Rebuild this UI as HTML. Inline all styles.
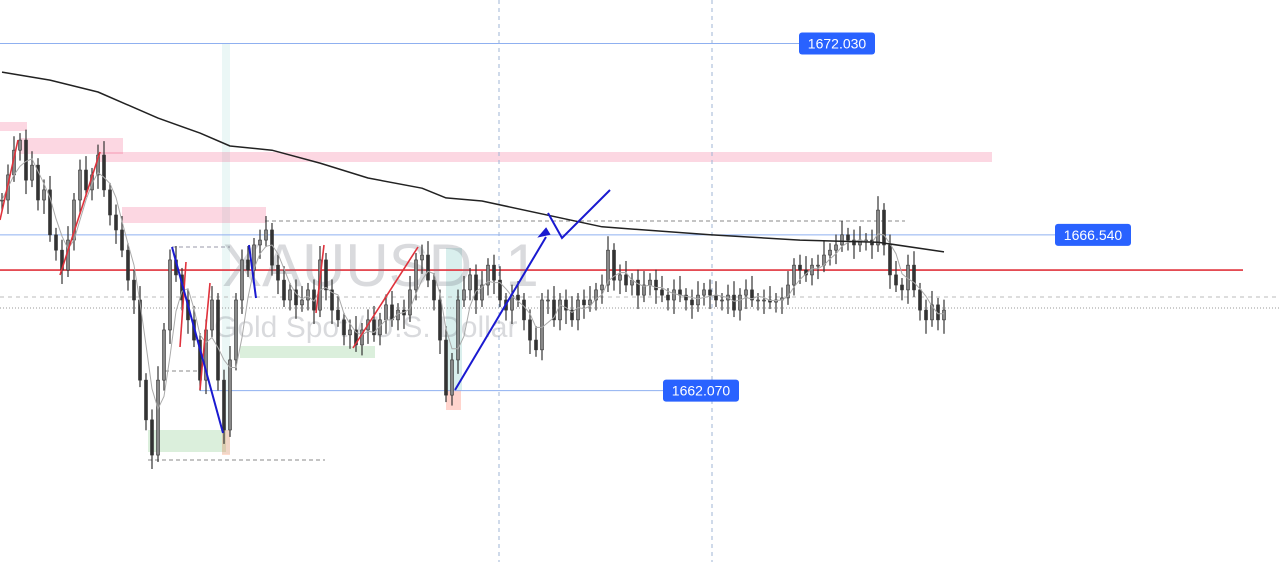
<!DOCTYPE html>
<html><head><meta charset="utf-8"><style>
html,body{margin:0;padding:0;background:#fff;width:1280px;height:562px;overflow:hidden;font-family:"Liberation Sans",sans-serif;}
svg{display:block}
</style></head><body>
<svg id="chart" width="1280" height="562" viewBox="0 0 1280 562" xmlns="http://www.w3.org/2000/svg">
<g id="bg"></g>
<text x="222" y="286" font-size="60" fill="rgba(120,123,134,0.28)" font-family="Liberation Sans, sans-serif">XAUUSD, 1</text>
<text x="214" y="337" font-size="30" fill="rgba(120,123,134,0.28)" font-family="Liberation Sans, sans-serif">Gold Spot / U.S. Dollar</text>
<g id="marks"></g>
<g id="fg"></g>
</svg>
<script>
const closes = [1667.54,1668.26,1668.97,1669.26,1668.11,1668.54,1667.54,1667.83,1666.54,1666.10,1665.53,1666.39,1667.54,1668.40,1667.83,1668.26,1668.83,1667.83,1667.11,1666.68,1666.10,1665.24,1664.67,1662.37,1661.23,1660.22,1662.37,1663.81,1665.82,1665.39,1664.67,1664.10,1663.52,1662.37,1663.81,1664.67,1662.37,1660.94,1662.95,1664.67,1665.82,1665.53,1666.25,1666.39,1666.68,1665.67,1665.24,1664.67,1664.96,1664.53,1664.67,1664.96,1664.38,1665.82,1664.96,1664.38,1664.10,1663.67,1663.81,1663.38,1663.81,1664.10,1663.67,1664.10,1664.53,1664.10,1664.38,1664.24,1664.96,1665.82,1665.96,1665.24,1664.67,1663.52,1661.94,1662.95,1664.67,1664.96,1665.39,1664.67,1665.10,1665.67,1665.24,1664.67,1664.38,1664.81,1664.67,1664.10,1663.52,1663.24,1664.67,1664.67,1664.10,1664.67,1664.38,1664.10,1664.67,1664.53,1664.67,1664.96,1665.10,1666.10,1665.24,1665.39,1665.10,1665.24,1664.81,1665.10,1665.24,1664.96,1664.81,1664.67,1664.96,1664.81,1664.67,1664.53,1664.81,1664.96,1664.81,1664.67,1664.67,1664.81,1664.38,1664.81,1664.96,1664.67,1664.67,1664.67,1664.61,1664.67,1664.73,1665.10,1665.67,1665.53,1665.39,1665.67,1665.67,1665.96,1666.10,1666.25,1666.54,1666.39,1666.25,1666.39,1666.39,1666.25,1667.25,1666.25,1665.39,1665.10,1664.96,1665.67,1664.96,1664.38,1664.10,1664.53,1664.10,1664.38];
const ma200Idx = [0,8,16,26,33,38,45,53,61,70,74,80,100,118,133,146,157];
const ma200Val = [1671.21,1670.98,1670.64,1669.89,1669.46,1669.09,1668.97,1668.60,1668.17,1667.88,1667.60,1667.51,1666.77,1666.54,1666.39,1666.33,1666.05];
const priceLabels = ["1672.030","1666.540","1662.070"];
const priceLevels = [1672.03,1666.54,1662.07];
const redLevel = 1665.53;

const NS="http://www.w3.org/2000/svg";
function y(p){return (1673.28-p)/0.0287;}
function x(i){return 2+6*i;}
function mk(tag,attrs,parent){const e=document.createElementNS(NS,tag);for(const k in attrs)e.setAttribute(k,attrs[k]);document.getElementById(parent).appendChild(e);return e;}

let e;
e=mk('rect',{x:222,y:44,width:8,height:410,fill:'rgba(0,150,136,0.08)'},'bg');

e=mk('rect',{x:446,y:248,width:16,height:142,fill:'rgba(0,150,136,0.15)'},'bg');

const boxes=[[0,122,27,9,'rgba(242,54,110,0.2)','supply-zone-1'],[20,138,103,16,'rgba(242,54,110,0.2)','supply-zone-2'],[100,152,892,10,'rgba(242,54,110,0.2)','supply-zone-3'],[122,207,144,16,'rgba(242,54,110,0.2)','supply-zone-4'],[148,430,78,22,'rgba(76,175,80,0.2)','demand-zone-1'],[240,346,135,12,'rgba(76,175,80,0.2)','demand-zone-2'],[446,390,15,20,'rgba(255,112,90,0.3)','small-zone-1'],[222,430,8,25,'rgba(255,140,90,0.3)','small-zone-2']];
boxes.forEach(b=>{e=mk('rect',{x:b[0],y:b[1],width:b[2],height:b[3],fill:b[4]},'bg');

});
[499,712].forEach((vx,k)=>{e=mk('line',{x1:vx,y1:0,x2:vx,y2:562,stroke:'#9fb6d6','stroke-width':1,'stroke-dasharray':'4,4'},'bg');

});
const hl=[[0,800,y(priceLevels[0]),'#8fb0f0','','level-line-1672'],[0,1055,y(priceLevels[1]),'#8fb0f0','','level-line-1666'],[200,665,y(priceLevels[2]),'#8fb0f0','','level-line-1662'],[0,1280,297,'#bbb','4,4','dashed-level'],[0,1280,308,'#999','1,2','dotted-level'],[265,905,221,'#888','4,3','dashed-high'],[148,325,460,'#888','4,3','dashed-low'],[172,230,247,'#99a','4,3','dashed-short-1'],[165,200,371,'#888','4,3','dashed-short-2']];
hl.forEach(h=>{e=mk('line',{x1:h[0],x2:h[1],y1:h[2],y2:h[2],stroke:h[3],'stroke-width':1,'stroke-dasharray':h[4]},'bg');

});
e=mk('line',{x1:0,x2:1243,y1:y(redLevel),y2:y(redLevel),stroke:'#e0323c','stroke-width':1.6},'bg');



for(let i=0;i<closes.length;i++){
  const o=i?closes[i-1]:closes[i], c=closes[i];
  const hi=Math.max(o,c)+0.2+(i%3)*0.1, lo=Math.min(o,c)-0.2-((i+1)%3)*0.1;
  const cx=x(i);
  e=mk('line',{x1:cx,x2:cx,y1:y(hi),y2:y(lo),stroke:'#333','stroke-width':1.2},'marks');
  
  
  const top=Math.min(y(o),y(c)),hgt=Math.max(1,Math.abs(y(o)-y(c)));
  e=mk('rect',{x:cx-1.5,y:top,width:3,height:hgt,fill:c>=o?'#888':'#333',stroke:'#333','stroke-width':0.6},'marks');
  
  
}
let pts=[];
for(let i=0;i<closes.length;i++){let s=0,n=0;for(let j=Math.max(0,i-3);j<=i;j++){s+=closes[j];n++;}pts.push(x(i)+','+y(s/n).toFixed(1));}
e=mk('polyline',{points:pts.join(' '),fill:'none',stroke:'#aaa','stroke-width':1},'marks');


pts=ma200Idx.map((ix,k)=>x(ix)+','+y(ma200Val[k]).toFixed(1));
e=mk('polyline',{points:pts.join(' '),fill:'none',stroke:'#222','stroke-width':1.5,'stroke-linejoin':'round'},'marks');



const tl=[[[0,220],[18,140]],[[60,275],[100,152]],[[180,347],[186,262]],[[200,390],[210,283]],[[316,313],[324,245]],[[353,348],[418,247]]];
tl.forEach(t=>{e=mk('polyline',{points:t.map(p=>p.join(',')).join(' '),fill:'none',stroke:'#e0323c','stroke-width':1.6},'fg');

});
const bl=[[[172,247],[223,433]],[[249,245],[256,298]],[[455,390],[546,237]],[[548,213],[562,238],[610,190]]];
bl.forEach(t=>{e=mk('polyline',{points:t.map(p=>p.join(',')).join(' '),fill:'none',stroke:'#1a1ad0','stroke-width':2},'fg');

});
e=mk('polygon',{points:'549,234 540,236 546,229',fill:'#1a1ad0',stroke:'#1a1ad0','stroke-width':2},'fg');



const lx=[799,1055,663];
priceLabels.forEach((t,k)=>{const yy=y(priceLevels[k]);
  e=mk('rect',{x:lx[k],y:yy-11,width:76,height:22,rx:3,fill:'#2962ff'},'fg');
  
  
  const tx=mk('text',{x:lx[k]+38,y:yy+5,'text-anchor':'middle','font-size':14,fill:'#fff','font-family':'Liberation Sans, sans-serif'},'fg');
  tx.textContent=t;
  
  
});
</script>
</body></html>
